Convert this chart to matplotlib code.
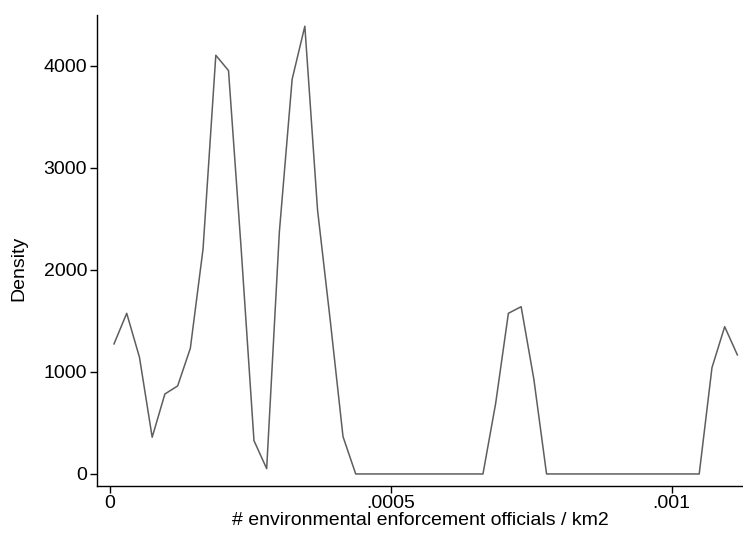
import matplotlib.pyplot as plt
import matplotlib as mpl

mpl.rcParams["font.family"] = ["Liberation Sans", "DejaVu Sans"]
mpl.rcParams["font.size"] = 14

# kernel density estimate (x in officials / km2)
grid_x = [8.0e-6, 30.6e-6, 53.3e-6, 75.9e-6, 98.5e-6, 121.2e-6, 143.8e-6, 166.4e-6,
          189.1e-6, 211.7e-6, 234.3e-6, 257.0e-6, 279.6e-6, 302.2e-6, 324.9e-6, 347.5e-6,
          370.1e-6, 392.8e-6, 415.4e-6, 438.0e-6, 460.7e-6, 483.3e-6, 505.9e-6, 528.6e-6,
          551.2e-6, 573.8e-6, 596.5e-6, 619.1e-6, 641.7e-6, 664.4e-6, 687.0e-6, 709.6e-6,
          732.3e-6, 754.9e-6, 777.5e-6, 800.2e-6, 822.8e-6, 845.4e-6, 868.1e-6, 890.7e-6,
          913.3e-6, 936.0e-6, 958.6e-6, 981.2e-6, 1003.9e-6, 1026.5e-6, 1049.1e-6, 1071.8e-6,
          1094.4e-6, 1117.0e-6]
density = [1275, 1575, 1144, 360, 784, 863, 1232, 2206,
           4105, 3955, 2200, 327, 52, 2375, 3870, 4390,
           2588, 1500, 366, 0, 0, 0, 0, 0,
           0, 0, 0, 0, 0, 0, 693, 1575,
           1640, 930, 0, 0, 0, 0, 0, 0,
           0, 0, 0, 0, 0, 0, 0, 1042,
           1444, 1167]

x_ticks = [0, 0.0005, 0.001]
x_tick_labels = ["0", ".0005", ".001"]
y_ticks = [0, 1000, 2000, 3000, 4000]

fig = plt.figure(figsize=(7.43, 5.35), dpi=100)
ax = fig.add_axes([0.1312, 0.0916, 0.8688, 0.8804])

ax.plot(grid_x, density, color="#5e5e5e", linewidth=1.1)

ax.set_xlim(-2.14e-5, 1.127e-3)
ax.set_ylim(-118, 4500)
ax.set_xticks(x_ticks)
ax.set_xticklabels(x_tick_labels)
ax.set_yticks(y_ticks)

for side in ["top", "right"]:
    ax.spines[side].set_visible(False)
for side in ["left", "bottom"]:
    ax.spines[side].set_linewidth(1.0)
ax.tick_params(axis="x", direction="out", length=5, width=1.0, labelsize=14, pad=1.5)
ax.tick_params(axis="y", direction="out", length=5, width=1.0, labelsize=14, pad=2.5)

ax.set_xlabel("# environmental enforcement officials / km2", fontsize=14, labelpad=0)
ax.set_ylabel("Density", fontsize=14)
ax.yaxis.set_label_coords(-0.109, 0.463)

fig.savefig("out.png", dpi=100)
